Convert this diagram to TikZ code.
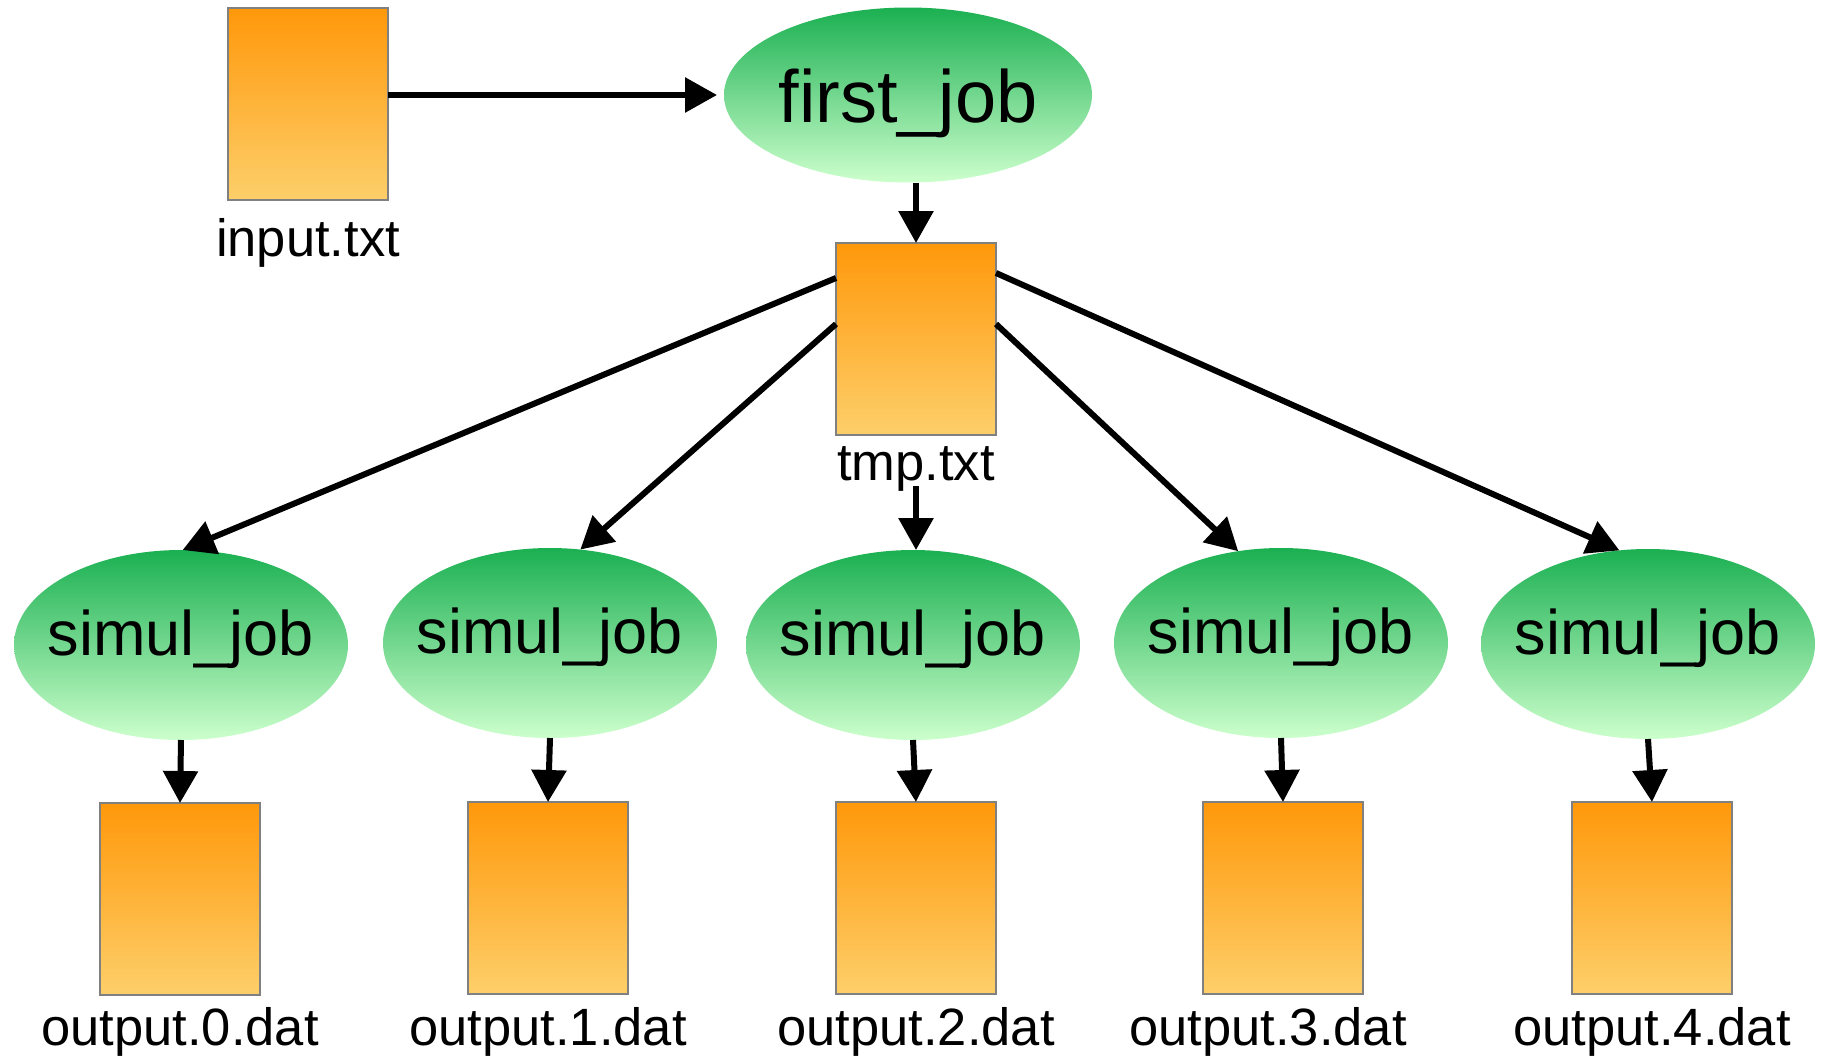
\documentclass[tikz,border=0pt]{standalone}
\usepackage{fontspec}
\setmainfont{Liberation Sans}
\usetikzlibrary{arrows.meta,shapes.geometric}
\definecolor{fileTop}{RGB}{255,152,10}
\definecolor{fileBot}{RGB}{253,207,106}
\definecolor{jobTop}{RGB}{27,176,82}
\definecolor{jobBot}{RGB}{204,255,204}
\definecolor{fileEdge}{RGB}{128,128,128}

\begin{document}
\begin{tikzpicture}[x=1pt,y=-1pt,
  filebox/.style={rectangle, draw=fileEdge, line width=2pt,
    top color=fileTop, bottom color=fileBot,
    minimum width=160pt, minimum height=192pt, inner sep=0pt, outer sep=0pt},
  jobnode/.style={ellipse, top color=jobTop, bottom color=jobBot,
    inner sep=0pt, outer sep=0pt, text depth=0pt},
  simjob/.style={jobnode, minimum width=334pt, minimum height=190pt,
    text height=20pt, font=\fontsize{63}{70}\selectfont},
  filelabel/.style={anchor=base, inner sep=0pt, font=\fontsize{52.5}{60}\selectfont},
  flow/.style={draw=black, line width=6pt, -{Triangle[length=32pt,width=34pt]}}
]
\path[use as bounding box] (0,0) rectangle (1822,1060);

% input file and first job
\node[filebox] (in) at (308,104) {};
\node[filelabel] (inlbl) at (308,256) {input.txt};
\node[jobnode, minimum width=368pt, minimum height=175pt, text height=55pt,
      font=\fontsize{74}{80}\selectfont] (fj) at (908,95) {\makebox[0pt]{first\_job}};

% intermediate file
\node[filebox] (tmp) at (916,339) {};
\node[filelabel] (tmplbl) at (916,480) {tmp.txt};

% simulation jobs
\node[simjob] (s0) at (181,645)  {\makebox[0pt]{simul\_job}};
\node[simjob] (s1) at (550,643)  {\makebox[0pt]{simul\_job}};
\node[simjob] (s2) at (913,645)  {\makebox[0pt]{simul\_job}};
\node[simjob] (s3) at (1281,643) {\makebox[0pt]{simul\_job}};
\node[simjob] (s4) at (1648,644) {\makebox[0pt]{simul\_job}};

% output files
\node[filebox] (o0) at (180,899)  {};
\node[filebox] (o1) at (548,898)  {};
\node[filebox] (o2) at (916,898)  {};
\node[filebox] (o3) at (1283,898) {};
\node[filebox] (o4) at (1652,898) {};
\node[filelabel] (lo0) at (180,1045)  {output.0.dat};
\node[filelabel] (lo1) at (548,1045)  {output.1.dat};
\node[filelabel] (lo2) at (916,1045)  {output.2.dat};
\node[filelabel] (lo3) at (1268,1045) {output.3.dat};
\node[filelabel] (lo4) at (1652,1045) {output.4.dat};

% connectors
\draw[flow, shorten >=7pt] (in.east |- fj.west) -- (fj.west);
\draw[flow] (tmp.north |- fj.south) -- (tmp.north);
\draw[flow] ([yshift=-35pt]tmp.north west) -- (s0.89);
\draw[flow] ([yshift=-81pt]tmp.north west) -- (s1.72);
\draw[flow] ([yshift=5pt]tmplbl.south) -- (tmplbl.south |- s2.north);
\draw[flow] ([yshift=-81pt]tmp.north east) -- (s3.115);
\draw[flow] ([yshift=-30pt]tmp.north east) -- (s4.107);
\draw[flow] (s0.south) -- (o0.north);
\draw[flow] (s1.south) -- (o1.north);
\draw[flow] (s2.south) -- (o2.north);
\draw[flow] (s3.south) -- (o3.north);
\draw[flow] (s4.south) -- (o4.north);
\end{tikzpicture}
\end{document}
